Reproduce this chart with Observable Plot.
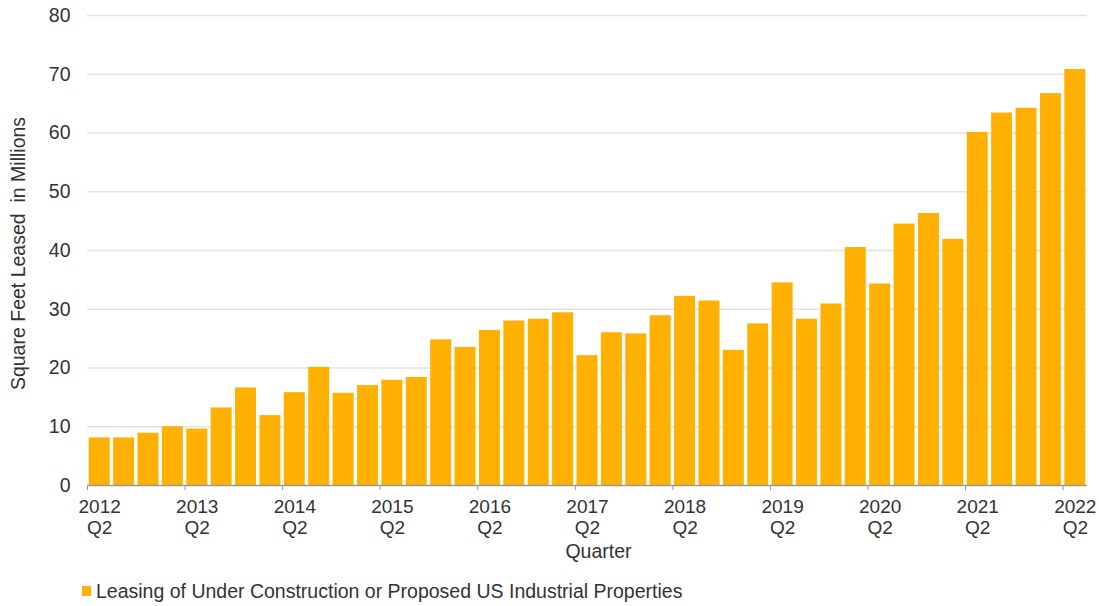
<!DOCTYPE html>
<html>
<head>
<meta charset="utf-8">
<script src="https://cdn.jsdelivr.net/npm/d3@7"></script>
<script src="https://cdn.jsdelivr.net/npm/@observablehq/plot@0.6"></script>
<style>
  body { margin: 0; background: #fff; font-family: "Liberation Sans", Arial, sans-serif; }
  #chart svg { display: block; }
  #legend { position: relative; height: 31px; font-size: 19.5px; color: #333; }
  #legend .sw { position: absolute; left: 82px; top: 11px; width: 9px; height: 10px; }
  #legend .lb { position: absolute; left: 96px; top: 5px; line-height: 22px; white-space: nowrap; }
</style>
</head>
<body>
<div id="chart"></div>
<div id="legend"><span class="sw"></span><span class="lb"></span></div>
<script>
const quarters = [
  "2012 Q2","2012 Q3","2012 Q4","2013 Q1",
  "2013 Q2","2013 Q3","2013 Q4","2014 Q1",
  "2014 Q2","2014 Q3","2014 Q4","2015 Q1",
  "2015 Q2","2015 Q3","2015 Q4","2016 Q1",
  "2016 Q2","2016 Q3","2016 Q4","2017 Q1",
  "2017 Q2","2017 Q3","2017 Q4","2018 Q1",
  "2018 Q2","2018 Q3","2018 Q4","2019 Q1",
  "2019 Q2","2019 Q3","2019 Q4","2020 Q1",
  "2020 Q2","2020 Q3","2020 Q4","2021 Q1",
  "2021 Q2","2021 Q3","2021 Q4","2022 Q1",
  "2022 Q2"
];
const leased = [
  8.1, 8.1, 8.9, 10.0,
  9.6, 13.2, 16.6, 11.9,
  15.8, 20.1, 15.7, 17.0,
  17.9, 18.4, 24.8, 23.5,
  26.4, 28.0, 28.3, 29.4,
  22.1, 26.0, 25.8, 28.9,
  32.2, 31.4, 23.0, 27.5,
  34.5, 28.3, 30.9, 40.5,
  34.3, 44.5, 46.3, 41.9,
  60.1, 63.4, 64.2, 66.7,
  70.8
];
const xTickQuarters = ["2012 Q2","2013 Q2","2014 Q2","2015 Q2","2016 Q2","2017 Q2","2018 Q2","2019 Q2","2020 Q2","2021 Q2","2022 Q2"];
const yTicks = [0, 10, 20, 30, 40, 50, 60, 70, 80];
const yGrid = [10, 20, 30, 40, 50, 60, 70, 80];
const seriesName = "Leasing of Under Construction or Proposed US Industrial Properties";
const xTitle = "Quarter";
const yTitle = "Square Feet Leased  in Millions";
const barColor = "#FFB000";

const data = quarters.map((q, i) => ({quarter: q, value: leased[i]}));

const chart = Plot.plot({
  width: 1099,
  height: 575,
  marginLeft: 87,
  marginRight: 12,
  marginTop: 15,
  marginBottom: 90,
  style: {fontFamily: "'Liberation Sans', Arial, sans-serif", fontSize: "19px", color: "#333", background: "#fff"},
  x: {domain: quarters, paddingInner: 0.14, paddingOuter: 0.07, round: false, label: null},
  y: {domain: [0, 80], label: null},
  marks: [
    Plot.gridY(yGrid, {stroke: "#e3e3e3", strokeOpacity: 1, strokeWidth: 1.5}),
    Plot.barY(data, {x: "quarter", y: "value", fill: barColor}),
    Plot.ruleY([0], {stroke: "#9a9a9a", strokeWidth: 1.5}),
    Plot.axisY({ticks: yTicks, tickSize: 0, tickPadding: 17, fontSize: 19.5, label: null, fill: "#333"}),
    Plot.axisX({ticks: xTickQuarters, tickSize: 5, tickFormat: () => "", dx: -12.2, stroke: "#9a9a9a", label: null}),
    Plot.axisX({ticks: xTickQuarters, tickSize: 0, tickPadding: 13, tickFormat: d => d.replace(" ", "\n"), lineHeight: 1.1, fontSize: 19, fill: "#333", label: null}),
    Plot.text([xTitle], {frameAnchor: "bottom", dy: 72, dx: 11, fontSize: 19.5, fill: "#333"}),
    Plot.text([yTitle], {frameAnchor: "left", textAnchor: "middle", rotate: -90, dx: -69, dy: 3, fontSize: 19.5, fill: "#333"})
  ]
});
document.getElementById("chart").appendChild(chart);
document.querySelector("#legend .sw").style.background = barColor;
document.querySelector("#legend .lb").textContent = seriesName;
</script>
</body>
</html>
